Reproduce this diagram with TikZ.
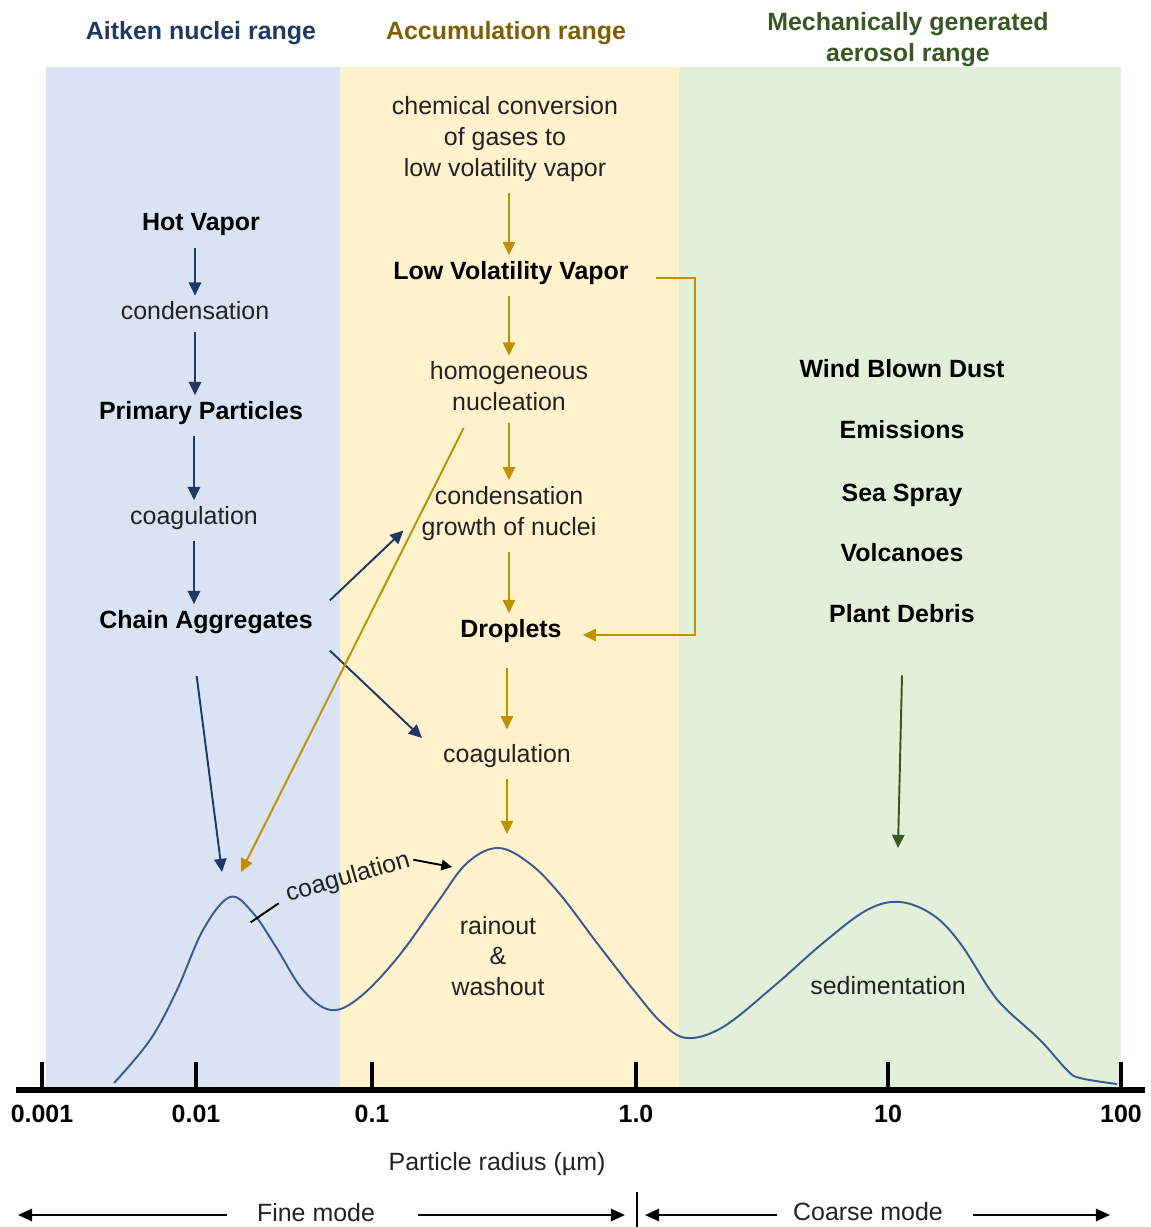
\documentclass[tikz,border=0pt]{standalone}
\usepackage{fontspec}
\setmainfont{Liberation Sans}
\usetikzlibrary{arrows.meta}

\definecolor{bandblue}{HTML}{DAE3F3}
\definecolor{bandgold}{HTML}{FFF2CC}
\definecolor{bandgreen}{HTML}{E2F0D9}
\definecolor{aitkenblue}{HTML}{203864}
\definecolor{accgold}{HTML}{BF9000}
\definecolor{accdark}{HTML}{7F6000}
\definecolor{mechgreen}{HTML}{385723}
\definecolor{curveblue}{HTML}{3A5A94}
\definecolor{txtgray}{HTML}{222222}

\begin{document}
\begin{tikzpicture}[x=0.02cm,y=-0.02cm,
  lbl/.style={font=\fontsize{14.2}{17.6}\selectfont,text=txtgray,align=center},
  bold/.style={font=\fontsize{14.2}{17.6}\selectfont\bfseries,text=black,align=center},
  navyarrow/.style={draw=aitkenblue,line width=1.1pt,shorten <=3pt,-{Triangle[length=7.5pt,width=7pt]}},
  goldarrow/.style={draw=accgold,line width=1.1pt,shorten <=3pt,-{Triangle[length=7.5pt,width=7pt]}},
  greenarrow/.style={draw=mechgreen,line width=1.1pt,-{Triangle[length=7.5pt,width=7pt]}},
  modearrow/.style={draw=black,line width=1.1pt,-{Triangle[length=8pt,width=7pt]}}
]

\useasboundingbox (0,0) rectangle (1151,1227);

\fill[bandblue] (46,67) rectangle (340,1088);
\fill[bandgold] (340,67) rectangle (679,1088);
\fill[bandgreen] (679,67) rectangle (1121,1088);

\node[bold,text=aitkenblue] (hAitken) at (201,33) {Aitken nuclei range};
\node[bold,text=accdark] (hAcc) at (506,33) {Accumulation range};
\node[bold,text=mechgreen] (hMech) at (908,39.5) {Mechanically generated\\aerosol range};

\node[bold] (hv) at (201,225) {Hot Vapor};
\node[lbl] (cond) at (195,311) {condensation};
\node[bold] (pp) at (201,413) {Primary Particles};
\node[lbl] (coag) at (194,518) {coagulation};
\node[bold] (chain) at (206,622) {Chain Aggregates};

\draw[navyarrow] (hv.south -| cond) -- (cond.north);
\draw[navyarrow] (cond.south) -- (cond.south |- pp.north);
\draw[navyarrow] (pp.south -| coag) -- (coag.north);
\draw[navyarrow] (coag.south) -- (coag.south |- chain.north);

\node[lbl] (chem) at (505,139) {chemical conversion\\of gases to\\low volatility vapor};
\node[bold] (lvv) at (511,273) {Low Volatility Vapor};
\node[lbl] (hn) at (509,386.5) {homogeneous\\nucleation};
\node[lbl] (cg) at (509,513.5) {condensation\\growth of nuclei};
\node[bold] (drop) at (511,631) {Droplets};
\node[lbl] (coagb) at (507,756) {coagulation};

\draw[goldarrow] (chem.south -| hn) -- (hn |- lvv.north);
\draw[goldarrow] (lvv.south -| hn) -- (hn.north);
\draw[goldarrow] (hn.south) -- (cg.north);
\draw[goldarrow] (cg.south) -- (cg.south |- drop.north);
\draw[goldarrow,shorten <=11pt,shorten >=5pt] (drop.south -| coagb) -- (coagb.north);
\draw[goldarrow] ([shift={(16,5)}]lvv.east) -- ++(44,0) |- ([shift={(15,4)}]drop.east);

\node[bold] (wbd) at (902,369) {Wind Blown Dust};
\node[bold] (emis) at (902,430) {Emissions};
\node[bold] (spray) at (902,495) {Sea Spray};
\node[bold] (volc) at (902,553) {Volcanoes};
\node[bold] (debris) at (902,614) {Plant Debris};

\coordinate (pk1) at (230,897);
\coordinate (pk2) at (498,848);
\coordinate (pk3) at (900,902);
\coordinate (aitkentip) at (222,872);
\coordinate (goldtip) at (241,872);
\coordinate (cltip) at (452,867);

\draw[curveblue,line width=1.1pt] plot[smooth,tension=0.6] coordinates {(114,1083) (150,1040) (177,990) (203,930) (230,897) (253,913) (276,947) (303,990) (331,1010) (360,997) (398,957) (437,903) (467,863) (498,848) (529,863) (559,893) (597,943) (636,993) (662,1023) (687,1038) (723,1027) (773,987) (823,943) (867,910) (900,902) (933,915) (960,943) (990,990) (1007,1010) (1040,1040) (1067,1070) (1080,1078) (1117,1084)};

\draw[navyarrow] ([shift={(7,0)}]chain.north east) -- ([shift={(-12,17)}]cg.west);
\draw[navyarrow] ([shift={(7,7)}]chain.south east) -- ([shift={(-15,-18)}]coagb.west);
\draw[navyarrow] ([shift={(-10,31)}]chain.south) -- (aitkentip);
\draw[goldarrow] ([shift={(-43,6)}]hn.south) -- (goldtip);
\draw[goldarrow,shorten >=8pt] (coagb.south) -- (coagb.south |- pk2);
\draw[greenarrow] ([shift={(0,46)}]debris.south) -- ([shift={(-2,-54)}]pk3);

\node[lbl,rotate=16] (cl) at (348,878) {coagulation};
\draw[black,line width=1.1pt] ([shift={(-2,6)}]cl.west) -- ++(-28,19);
\draw[modearrow,-{Triangle[length=6pt,width=6pt]}] ([shift={(-2,1)}]cl.east) -- (cltip);

\node[lbl] (rw) at (498,956) {rainout\\\&\\washout};
\node[lbl] (sed) at (888,986) {sedimentation};

\draw[line width=0.12cm] (16,1090) -- (1145,1090);
\foreach \x/\t/\n in {42/0.001/ta,196/0.01/tb,372/0.1/tc,636/1.0/td,888/10/te,1121/100/tf} {
  \draw[line width=0.08cm] (\x,1062) -- (\x,1090);
  \node[bold] (\n) at (\x,1114) {\t};
}

\node[lbl] (prad) at (497,1164) {Particle radius (µm)};

\draw[line width=0.7pt] (637,1192) -- (637,1227);
\node[lbl] (fine) at (316,1213) {Fine mode};
\node[lbl] (coarse) at (868,1212) {Coarse mode};
\coordinate (fineL) at (18,1215);
\coordinate (fineR) at (625,1215);
\coordinate (coarseL) at (645,1215);
\coordinate (coarseR) at (1110,1215);
\draw[modearrow] ([shift={(-24,2)}]fine.west) -- (fineL);
\draw[modearrow] ([shift={(37,2)}]fine.east) -- (fineR);
\draw[modearrow] ([shift={(-10,3)}]coarse.west) -- (coarseL);
\draw[modearrow] ([shift={(24,3)}]coarse.east) -- (coarseR);

\end{tikzpicture}
\end{document}
